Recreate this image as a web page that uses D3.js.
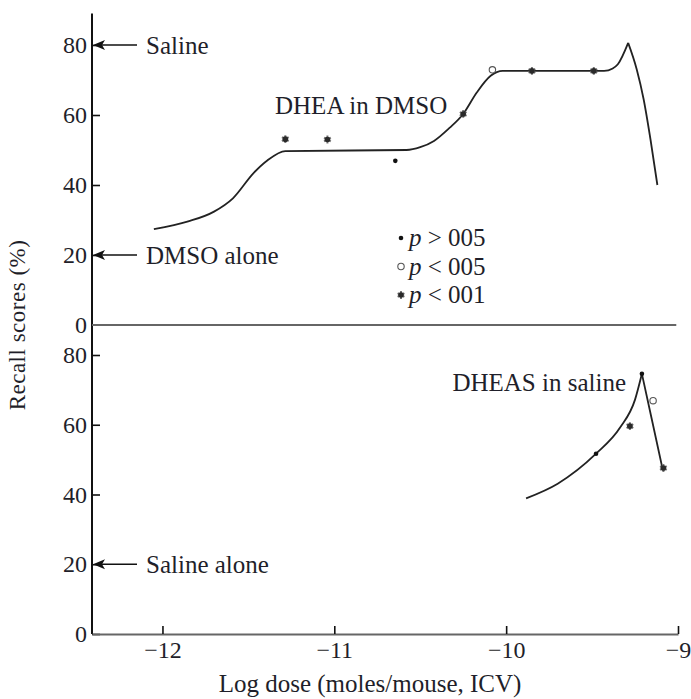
<!DOCTYPE html>
<html>
<head>
<meta charset="utf-8">
<script src="https://cdn.jsdelivr.net/npm/d3@7"></script>
<style>
  body { margin: 0; background: #fff; }
  text { font-family: "Liberation Serif", "Times New Roman", serif; fill: #1f1f2a; }
</style>
</head>
<body>
<div id="chart"></div>
<script>
// DHEA in DMSO, fitted curve (log dose, recall %)
const dheaCurveDose  = [-12.05, -11.85, -11.7, -11.59, -11.47, -11.39, -11.285, -10.58, -10.5, -10.42, -10.33, -10.25, -10.17, -10.09, -10.02, -9.43, -9.38, -9.35, -9.29, -9.24, -9.2, -9.16, -9.12];
const dheaCurveScore = [27.4, 29.6, 32.4, 36.2, 43.4, 47, 49.7, 50, 50.8, 52.6, 56.3, 60.3, 66.5, 71.2, 72.6, 72.6, 73.3, 74.5, 80.6, 73, 64.5, 53, 40];

// DHEA in DMSO, observed points
const dheaDose  = [-11.285, -11.04, -10.645, -10.25, -10.08, -9.85, -9.49];
const dheaScore = [53.1, 53, 46.9, 60.3, 72.9, 72.6, 72.6];
const dheaSig   = ["p01", "p01", "ns", "p01", "p05", "p01", "p01"];

// DHEAS in saline, fitted curve
const dheasCurveDose  = [-9.884, -9.70, -9.477, -9.337, -9.25, -9.21, -9.15, -9.09];
const dheasCurveScore = [38.9, 43.1, 51.7, 59.2, 67.2, 74.6, 61, 47.4];

// DHEAS in saline, observed points
const dheasDose  = [-9.477, -9.28, -9.21, -9.145, -9.085];
const dheasScore = [51.7, 59.6, 74.6, 66.9, 47.6];
const dheasSig   = ["ns", "p01", "ns", "p05", "p01"];

// reference levels
const topRefLabels = ["Saline", "DMSO alone"];
const topRefValues = [80, 20];
const botRefLabels = ["Saline alone"];
const botRefValues = [20];

const yTicks = [0, 20, 40, 60, 80];
const xTicks = [-12, -11, -10, -9];

const legendSig = ["ns", "p05", "p01"];
const legendOp  = [" > 005", " < 005", " < 001"];

const width = 691, height = 699;

const svg = d3.select("#chart")
  .append("svg")
  .attr("width", width)
  .attr("height", height);

const x = d3.scaleLinear().domain([-12.41, -9]).range([92, 678]);
const yTop = d3.scaleLinear().domain([0, 80]).range([325, 45]);
const yBot = d3.scaleLinear().domain([0, 80]).range([634, 355]);

const zip = (a, b) => a.map((v, i) => [v, b[i]]);

// left axes (ticks pointing in, labels outside)
const addYAxis = (scale, values) => {
  const g = svg.append("g")
      .attr("transform", `translate(${x(-12.41)},0)`)
    .call(d3.axisLeft(scale).tickValues(values).tickSizeInner(-8).tickSizeOuter(0).tickPadding(5));
  g.select(".domain").remove();
  g.selectAll(".tick line").attr("stroke", "#111").attr("stroke-width", 1.6);
  g.selectAll("text").style("font-size", "24px").attr("fill", "#1f1f2a");
  return g;
};
addYAxis(yTop, [20, 40, 60, 80]);
addYAxis(yBot, yTicks);

// label "0" of the upper panel
svg.append("text")
  .attr("x", x(-12.41) - 5)
  .attr("y", yTop(0))
  .attr("dy", "0.32em")
  .attr("text-anchor", "end")
  .style("font-size", "24px")
  .text("0");

// continuous vertical axis line
svg.append("line")
  .attr("x1", x(-12.41)).attr("x2", x(-12.41))
  .attr("y1", yTop(89)).attr("y2", yBot(0))
  .attr("stroke", "#111").attr("stroke-width", 2);

// zero line of the upper panel
svg.append("line")
  .attr("x1", x(-12.41)).attr("x2", x(-9.01))
  .attr("y1", yTop(0)).attr("y2", yTop(0))
  .attr("stroke", "#666").attr("stroke-width", 2);

// bottom x axis
const xGroup = svg.append("g")
    .attr("transform", `translate(0,${yBot(0)})`)
  .call(d3.axisBottom(x).tickValues(xTicks).tickFormat(d3.format("d"))
    .tickSizeInner(-8).tickSizeOuter(0).tickPadding(7));
xGroup.select(".domain").attr("stroke", "#666").attr("stroke-width", 2);
xGroup.selectAll(".tick line").attr("stroke", "#111").attr("stroke-width", 1.6);
xGroup.selectAll("text").style("font-size", "24px").attr("fill", "#1f1f2a");

// axis titles
svg.append("text")
  .attr("x", 370)
  .attr("y", 692)
  .attr("text-anchor", "middle")
  .style("font-size", "25px")
  .text("Log dose (moles/mouse, ICV)");

svg.append("text")
  .attr("transform", `translate(25,${yTop(0)}) rotate(-90)`)
  .attr("text-anchor", "middle")
  .style("font-size", "23px")
  .style("letter-spacing", "0.5px")
  .text("Recall scores (%)");

// reference arrows
const addRef = (scale, values, labels) => {
  values.forEach((v, i) => {
    const y0 = scale(v), x0 = x(-12.41);
    svg.append("line")
      .attr("x1", x0 + 8).attr("x2", x0 + 45)
      .attr("y1", y0).attr("y2", y0)
      .attr("stroke", "#111").attr("stroke-width", 1.6);
    svg.append("path")
      .attr("d", `M${x0 + 1},${y0} L${x0 + 13},${y0 - 5} L${x0 + 10},${y0} L${x0 + 13},${y0 + 5} Z`)
      .attr("fill", "#111");
    svg.append("text")
      .attr("x", x0 + 54)
      .attr("y", y0)
      .attr("dy", "0.36em")
      .style("font-size", "25px")
      .text(labels[i]);
  });
};
addRef(yTop, topRefValues, topRefLabels);
addRef(yBot, botRefValues, botRefLabels);

// curves: split at the peak so the apex stays sharp
const line = scale => d3.line()
  .x(d => x(d[0]))
  .y(d => scale(d[1]))
  .curve(d3.curveMonotoneX);

const drawCurve = (scale, doses, scores) => {
  const pts = zip(doses, scores);
  const peak = d3.maxIndex(scores);
  [pts.slice(0, peak + 1), pts.slice(peak)].forEach(seg => {
    svg.append("path")
      .datum(seg)
      .attr("d", line(scale))
      .attr("fill", "none")
      .attr("stroke", "#222")
      .attr("stroke-width", 1.8)
      .attr("stroke-linejoin", "miter");
  });
};
drawCurve(yTop, dheaCurveDose, dheaCurveScore);
drawCurve(yBot, dheasCurveDose, dheasCurveScore);

// point markers by significance
const drawMarker = (sel, sig) => {
  if (sig === "ns") {
    sel.append("circle").attr("r", 2.3).attr("fill", "#111");
  } else if (sig === "p05") {
    sel.append("circle").attr("r", 3.2).attr("fill", "#fff").attr("stroke", "#555").attr("stroke-width", 1.1);
  } else {
    sel.append("path")
      .attr("d", d3.symbol(d3.symbolAsterisk, 42)())
      .attr("stroke", "#777").attr("stroke-width", 2);
    sel.append("circle").attr("r", 2.8).attr("fill", "#2a2a2a");
  }
};

const addPoints = (scale, doses, scores, sigs) => {
  doses.forEach((d, i) => {
    const g = svg.append("g").attr("transform", `translate(${x(d)},${scale(scores[i])})`);
    drawMarker(g, sigs[i]);
  });
};
addPoints(yTop, dheaDose, dheaScore, dheaSig);
addPoints(yBot, dheasDose, dheasScore, dheasSig);

// series labels
svg.append("text")
  .attr("x", 275).attr("y", 114)
  .style("font-size", "25px")
  .text("DHEA in DMSO");

svg.append("text")
  .attr("x", 626).attr("y", 391)
  .attr("text-anchor", "end")
  .style("font-size", "25px")
  .text("DHEAS in saline");

// legend
legendSig.forEach((s, i) => {
  const cy = 238 + i * 28.5;
  const g = svg.append("g").attr("transform", `translate(401,${cy})`);
  drawMarker(g, s);
  const t = svg.append("text")
    .attr("x", 409).attr("y", cy)
    .attr("dy", "0.33em")
    .style("font-size", "25px");
  t.append("tspan").style("font-style", "italic").text("p");
  t.append("tspan").text(legendOp[i]);
});
</script>
</body>
</html>
